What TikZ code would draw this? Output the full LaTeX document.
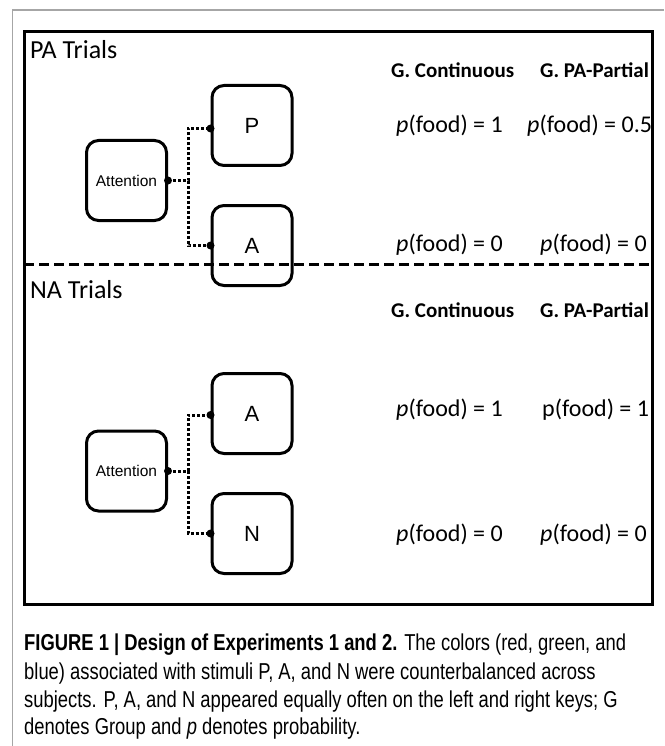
\documentclass[tikz,border=0pt]{standalone}
\usepackage{fontspec}
\setmainfont{Carlito}
\newfontfamily\arialf{Liberation Sans}
\newfontfamily\capf{Liberation Sans}[FakeStretch=0.80]
\begin{document}
\begin{tikzpicture}[x=1pt,y=-1pt,
  rbox/.style={draw, line width=3pt, rounded corners=12pt, minimum width=80pt, minimum height=80pt, inner sep=0pt},
  letter/.style={font=\arialf\fontsize{22}{26}\selectfont},
  attn/.style={font=\arialf\fontsize{15.5}{18}\selectfont},
  conn/.style={line width=3pt, dash pattern=on 3pt off 2pt},
  title/.style={anchor=west, inner sep=0pt, font=\fontsize{26}{30}\selectfont},
  head/.style={anchor=west, inner sep=0pt, font=\bfseries\fontsize{21}{25}\selectfont},
  prob/.style={anchor=west, inner sep=0pt, font=\fontsize{24}{28}\selectfont},
  capline/.style={anchor=base west, inner sep=0pt, font=\capf\fontsize{23}{27}\selectfont},
  dotc/.style={fill=black}
]
\useasboundingbox (0,0) rectangle (664,746);
\draw[gray!70, line width=1.5pt] (12.5,746) -- (12.5,10) -- (664,10);
\draw[line width=3pt] (24,32) rectangle (652,604);
\draw[line width=3pt, dash pattern=on 10pt off 5pt] (24,264) -- (652,264);

% PA trials
\node[title] (pat) at (30,50) {PA Trials};
\node[head] (h1) at (391,70) {G. Continuous};
\node[head] (h2) at (540,70) {G. PA-Partial};
\node[prob] (p11) at (396,126) {\textit{p}(food) = 1};
\node[prob] (p12) at (527,126) {\textit{p}(food) = 0.5};
\node[prob] (p21) at (396,245) {\textit{p}(food) = 0};
\node[prob] (p22) at (540,245) {\textit{p}(food) = 0};

\node[rbox, attn] (att1) at (126.5,180.5) {Attention};
\node[rbox, letter] (bp) at (252,125.5) {P};
\node[rbox, letter] (ba1) at (252,245.5) {A};
\coordinate (j1) at (188,180.5);
\draw[conn] (att1.east) -- (j1) |- ([yshift=-3pt]bp.west);
\draw[conn] (j1) |- (ba1.west);
\fill[dotc] (att1.east) circle (4pt);
\fill[dotc] ([yshift=-3pt]bp.west) circle (4pt);
\fill[dotc] (ba1.west) circle (4pt);

% NA trials
\node[title] (nat) at (30,290) {NA Trials};
\node[head] (h3) at (391,310) {G. Continuous};
\node[head] (h4) at (540,310) {G. PA-Partial};
\node[prob] (q11) at (396,410) {\textit{p}(food) = 1};
\node[prob] (q12) at (542,410) {p(food) = 1};
\node[prob] (q21) at (396,535) {\textit{p}(food) = 0};
\node[prob] (q22) at (540,535) {\textit{p}(food) = 0};

\node[rbox, attn] (att2) at (126.5,471) {Attention};
\node[rbox, letter] (ba2) at (252,413.5) {A};
\node[rbox, letter] (bn) at (252,533.5) {N};
\coordinate (j2) at (188,471);
\draw[conn] (att2.east) -- (j2) |- ([yshift=-1.5pt]ba2.west);
\draw[conn] (j2) |- (bn.west);
\fill[dotc] (att2.east) circle (4pt);
\fill[dotc] ([yshift=-1.5pt]ba2.west) circle (4pt);
\fill[dotc] (bn.west) circle (4pt);

% caption
\node[capline] (c1) at (24,650) {\textbf{FIGURE 1 | Design of Experiments 1 and 2.} The colors (red, green, and};
\node[capline] (c2) at (24,679) {blue) associated with stimuli P, A, and N were counterbalanced across};
\node[capline] (c3) at (24,707) {subjects. P, A, and N appeared equally often on the left and right keys; G};
\node[capline] (c4) at (24,734) {denotes Group and \textit{p} denotes probability.};
\end{tikzpicture}
\end{document}
